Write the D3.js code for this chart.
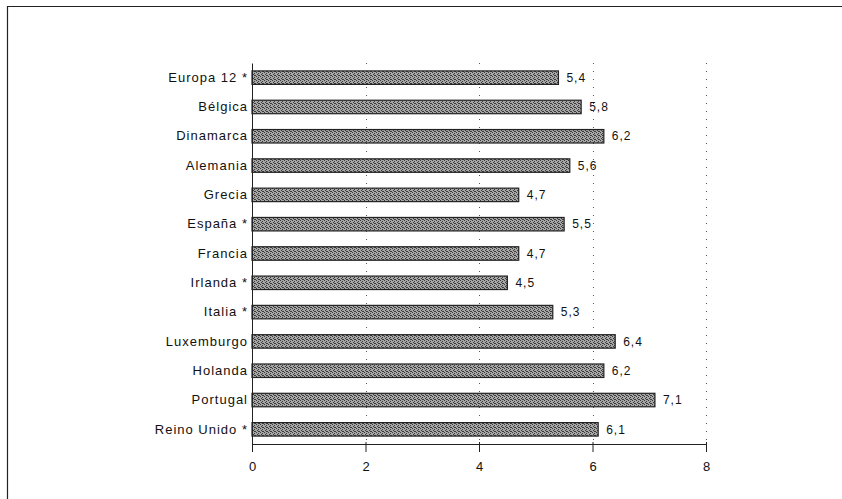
<!DOCTYPE html>
<html><head><meta charset="utf-8">
<script src="https://cdn.jsdelivr.net/npm/d3@7"></script>
<style>body{margin:0;background:#fff}svg{display:block}text{font-family:"Liberation Sans",Arial,sans-serif;fill:#111}</style>
</head><body><div id="c"></div>
<script>
const categories=["Europa 12 *","Bélgica","Dinamarca","Alemania","Grecia","España *","Francia","Irlanda *","Italia *","Luxemburgo","Holanda","Portugal","Reino Unido *"];
const values=[5.4,5.8,6.2,5.6,4.7,5.5,4.7,4.5,5.3,6.4,6.2,7.1,6.1];
const valueLabels=["5,4","5,8","6,2","5,6","4,7","5,5","4,7","4,5","5,3","6,4","6,2","7,1","6,1"];
const xTicks=[0,2,4,6,8];

const W=842,H=499;
const svg=d3.select("#c").append("svg").attr("width",W).attr("height",H);
const defs=svg.append("defs");
const pat=defs.append("pattern").attr("id","dots").attr("width",4).attr("height",4).attr("patternUnits","userSpaceOnUse");
pat.append("rect").attr("width",4).attr("height",4).attr("fill","#a6a6a6");
[[0,0],[2,1],[1,2],[3,3],[2,3]].forEach(([a,b])=>pat.append("rect").attr("x",a).attr("y",b).attr("width",1).attr("height",1).attr("fill","#3a3a3a"));

// frame
svg.append("path").attr("d","M7.5,506 L7.5,6.5 L850,6.5").attr("fill","none").attr("stroke","#222").attr("stroke-width",1.2);

const x=d3.scaleLinear().domain([0,8]).range([252,706]);
const y=d3.scaleBand().domain(categories).range([63,444]).paddingInner(0.54).paddingOuter(0.27);

// grid
svg.append("g").selectAll("line").data(xTicks.filter(d=>d>0)).join("line")
 .attr("x1",d=>Math.round(x(d))+0.5).attr("x2",d=>Math.round(x(d))+0.5)
 .attr("y1",63).attr("y2",444)
 .attr("stroke","#555").attr("stroke-width",1).attr("stroke-dasharray","1,7");

// bars
svg.append("g").selectAll("rect").data(values).join("rect")
 .attr("x",x(0)).attr("y",(d,i)=>y(categories[i]))
 .attr("width",d=>x(d)-x(0)).attr("height",y.bandwidth())
 .attr("fill","url(#dots)").attr("stroke","#222").attr("stroke-width",1.2);

// value labels
svg.append("g").selectAll("text").data(values).join("text")
 .attr("x",d=>x(d)+8).attr("y",(d,i)=>y(categories[i])+y.bandwidth()/2)
 .attr("dy","0.35em").attr("font-size",12).attr("letter-spacing","1px").text((d,i)=>valueLabels[i]);

// axes
const xa=svg.append("g").attr("transform","translate(0,444)")
 .call(d3.axisBottom(x).tickValues(xTicks).tickSize(8).tickPadding(10).tickFormat(d3.format("d")));
xa.selectAll("text").attr("font-size",13);
xa.select(".domain").attr("stroke","#222").attr("d","M252,0.5H706");
xa.selectAll(".tick line").attr("stroke","#222").attr("y1",-2).attr("y2",8);

const ya=svg.append("g").attr("transform","translate(252,0)")
 .call(d3.axisLeft(y).tickSize(0).tickPadding(4));
ya.select(".domain").attr("stroke","#222");
ya.selectAll("text").attr("font-size",13).attr("letter-spacing","1px");
</script></body></html>
